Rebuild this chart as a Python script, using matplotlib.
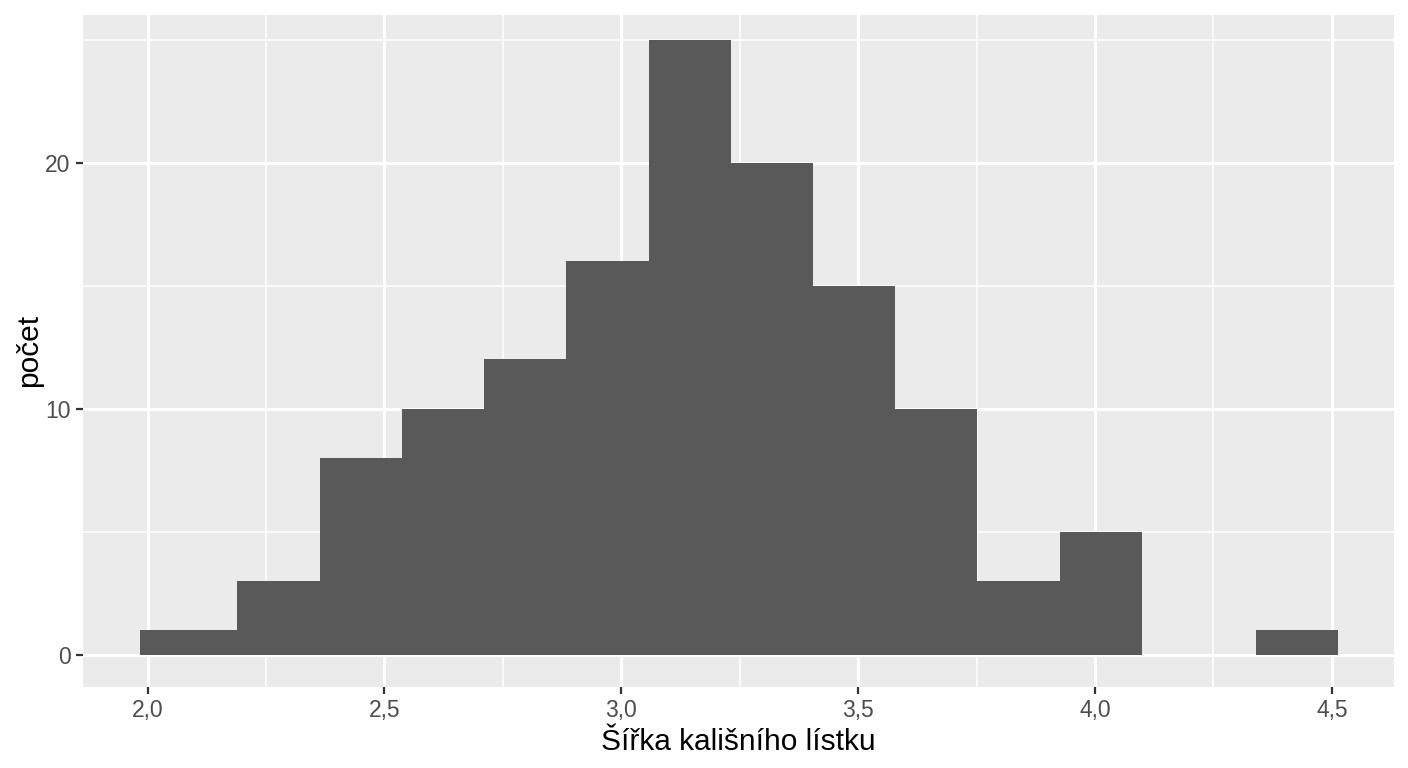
import numpy as np
import matplotlib
matplotlib.use("Agg")
import matplotlib.pyplot as plt
from matplotlib.ticker import FixedLocator, FuncFormatter

plt.rcParams['font.family'] = ['Liberation Sans', 'DejaVu Sans']

# data
bin_edges = [1.984, 2.189, 2.364, 2.537, 2.710, 2.883, 3.059, 3.232,
             3.405, 3.578, 3.751, 3.927, 4.100, 4.339, 4.512]
counts = [1, 3, 8, 10, 12, 16, 25, 20, 15, 10, 3, 5, 0, 1]
x_ticks = [2.0, 2.5, 3.0, 3.5, 4.0, 4.5]
y_ticks = [0, 10, 20]
x_label = "Šířka kališního lístku"
y_label = "počet"

edges = np.array(bin_edges)
widths = np.diff(edges)

fig = plt.figure(figsize=(14.08, 7.68), dpi=100)
ax = fig.add_axes([0.0589, 0.1059, 0.9311, 0.8746])
ax.set_facecolor('#EBEBEB')

ax.bar(edges[:-1], counts, width=widths, align='edge', color='#595959',
       edgecolor='none', linewidth=0, zorder=3)

ax.set_xlim(1.8634, 4.631)
ax.set_ylim(-1.3, 26.0)

ax.xaxis.set_major_locator(FixedLocator(x_ticks))
ax.yaxis.set_major_locator(FixedLocator(y_ticks))
ax.xaxis.set_minor_locator(FixedLocator([2.25, 2.75, 3.25, 3.75, 4.25]))
ax.yaxis.set_minor_locator(FixedLocator([5, 15, 25]))
ax.xaxis.set_major_formatter(FuncFormatter(lambda v, p: f"{v:.1f}".replace('.', ',')))
ax.yaxis.set_major_formatter(FuncFormatter(lambda v, p: f"{int(v)}"))

ax.grid(which='major', color='white', linewidth=2.2, zorder=1)
ax.grid(which='minor', color='white', linewidth=1.1, zorder=1)
ax.set_axisbelow(True)

for s in ax.spines.values():
    s.set_visible(False)

ax.tick_params(which='major', length=5, width=1.6, color='#333333',
               labelcolor='#4D4D4D', labelsize=16.5, pad=4)
ax.tick_params(which='minor', length=0)

ax.set_xlabel(x_label, fontsize=21.5, color='black', labelpad=4)
ax.set_ylabel(y_label, fontsize=21.5, color='black', labelpad=1)

fig.savefig("out.png", dpi=100, facecolor='white')
